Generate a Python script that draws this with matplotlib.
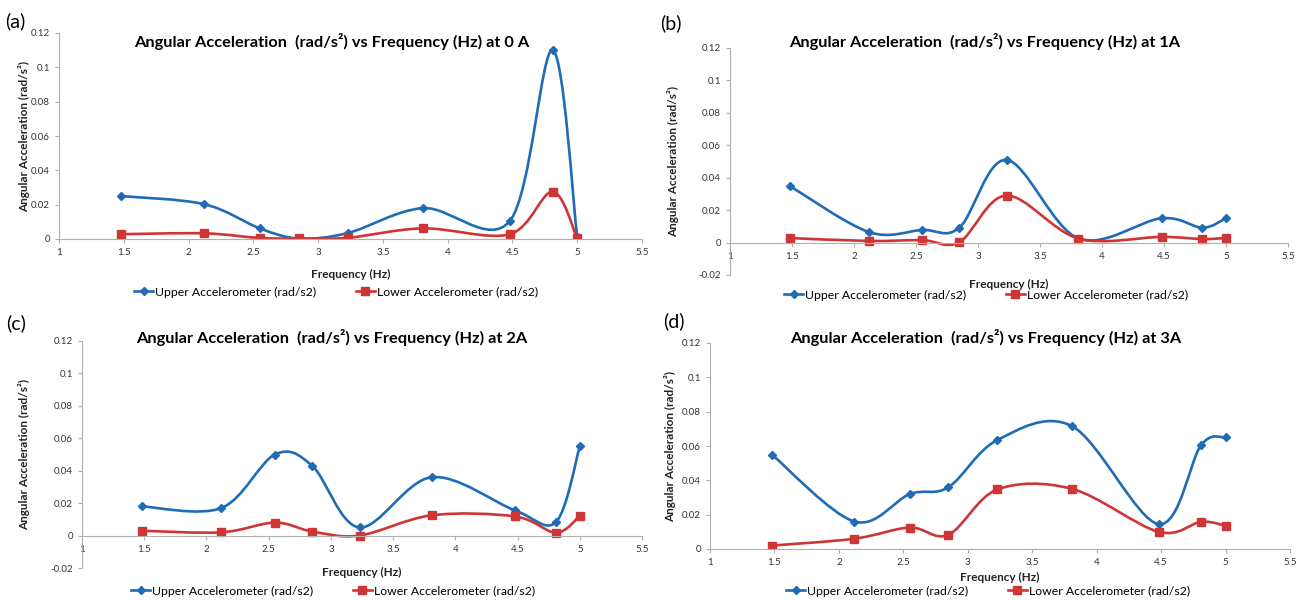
import numpy as np
import matplotlib.pyplot as plt
from matplotlib.path import Path
from matplotlib.patches import PathPatch

plt.rcParams['font.family'] = ['Lato', 'DejaVu Sans']

freq = [1.48, 2.12, 2.55, 2.85, 3.23, 3.81, 4.48, 4.81, 5.0]

upper_0A = [0.025, 0.0203, 0.0062, 0.0003, 0.0035, 0.018, 0.0105, 0.110, 0.001]
lower_0A = [0.0028, 0.0033, 0.0006, 0.0003, 0.0007, 0.0062, 0.0028, 0.0275, 0.0003]

upper_1A = [0.035, 0.0065, 0.0078, 0.0092, 0.051, 0.0025, 0.015, 0.0092, 0.015]
lower_1A = [0.0028, 0.001, 0.0015, 0.0003, 0.029, 0.0025, 0.0035, 0.0022, 0.0028]

upper_2A = [0.018, 0.017, 0.050, 0.043, 0.005, 0.036, 0.0155, 0.0085, 0.055]
lower_2A = [0.003, 0.002, 0.008, 0.0025, 0.0, 0.0125, 0.0118, 0.0018, 0.0122]

upper_3A = [0.055, 0.016, 0.032, 0.036, 0.0635, 0.0715, 0.0145, 0.0605, 0.065]
lower_3A = [0.002, 0.006, 0.0125, 0.0083, 0.0347, 0.035, 0.010, 0.0158, 0.0136]

W, H = 1308, 600
# tag, current, data, axes rect (px: left, bottom, width, height), ylim,
# title xy, xlabel y (axes), ylabel x (axes), legend xy (px), tag xy (px)
panels = [
    ("(a)", "0 A", upper_0A, lower_0A, (59, 239, 583, 206), (0, 0.12),
     (332, 41), -0.146, -0.05, (336, 292), (5, 21)),
    ("(b)", "1A", upper_1A, lower_1A, (730, 275, 558, 227), (-0.02, 0.12),
     (985, 42), -0.018, -0.091, (986, 295), (660, 23)),
    ("(c)", "2A", upper_2A, lower_2A, (82, 568, 560, 227), (-0.02, 0.12),
     (332, 337), 0.004, -0.093, (333, 591), (6, 323)),
    ("(d)", "3A", upper_3A, lower_3A, (710, 549, 580, 206), (0, 0.12),
     (986, 337), -0.112, -0.059, (988, 591), (663, 321)),
]

blue = '#1f6bb5'
red = '#cf3535'


def smooth_path(x, y):
    # excel-like smoothed line: catmull-rom as cubic bezier
    p = np.column_stack([x, y])
    n = len(p)
    verts = [p[0]]
    codes = [Path.MOVETO]
    for i in range(n - 1):
        p0 = p[i - 1] if i > 0 else p[i]
        p3 = p[i + 2] if i + 2 < n else p[i + 1]
        c1 = p[i] + (p[i + 1] - p0) / 6
        c2 = p[i + 1] - (p3 - p[i]) / 6
        verts += [c1, c2, p[i + 1]]
        codes += [Path.CURVE4] * 3
    return Path(verts, codes)


fig = plt.figure(figsize=(W / 100, H / 100), dpi=100)

for tag, amp, up, lo, r, ylim, txy, xly, ylx, lxy, pxy in panels:
    ax = fig.add_axes([r[0] / W, 1 - r[1] / H, r[2] / W, r[3] / H])
    for ys, col, mk, ms in [(up, blue, 'D', 4.5), (lo, red, 's', 6)]:
        ax.add_patch(PathPatch(smooth_path(freq, ys), fill=False, edgecolor=col, lw=1.9))
        ax.plot(freq, ys, ls='none', marker=mk, color=col, ms=ms)
    ax.set_xlim(1, 5.5)
    ax.set_ylim(*ylim)
    ax.set_xticks(np.arange(1, 5.51, 0.5))
    ax.set_xticklabels(['1', '1.5', '2', '2.5', '3', '3.5', '4', '4.5', '5', '5.5'])
    yt = np.arange(ylim[0], 0.1201, 0.02)
    ax.set_yticks(yt)
    ax.set_yticklabels(['%g' % round(v, 2) for v in yt])
    for s in ['top', 'right']:
        ax.spines[s].set_visible(False)
    ax.spines['bottom'].set_position(('data', 0))
    for s in ['left', 'bottom']:
        ax.spines[s].set_color('#b0b0b0')
    ax.tick_params(colors='#b0b0b0', labelcolor='#333333', labelsize=7, length=3)
    ax.set_xlabel('Frequency (Hz)', fontsize=8.5, fontweight='bold', color='#222222')
    ax.xaxis.set_label_coords(0.5, xly)
    ax.set_ylabel('Angular Acceleration (rad/s²)', fontsize=8.5, fontweight='bold',
                  color='#222222')
    ax.yaxis.set_label_coords(ylx, 0.5)
    fig.text(txy[0] / W, 1 - txy[1] / H,
             'Angular Acceleration  (rad/s²) vs Frequency (Hz) at ' + amp,
             fontsize=11.8, fontweight='bold', ha='center', va='center')
    handles = [plt.Line2D([], [], color=blue, marker='D', ms=4.5, lw=1.9),
               plt.Line2D([], [], color=red, marker='s', ms=6, lw=1.9)]
    fig.legend(handles=handles,
               labels=['Upper Accelerometer (rad/s2)', 'Lower Accelerometer (rad/s2)'],
               loc='center', bbox_to_anchor=(lxy[0] / W, 1 - lxy[1] / H),
               ncol=2, frameon=False, fontsize=8.8, handlelength=1.6, handletextpad=0.15,
               columnspacing=3.2, borderaxespad=0, borderpad=0)
    fig.text(pxy[0] / W, 1 - pxy[1] / H, tag, fontsize=14, va='center')

fig.savefig('out.png', dpi=100)
